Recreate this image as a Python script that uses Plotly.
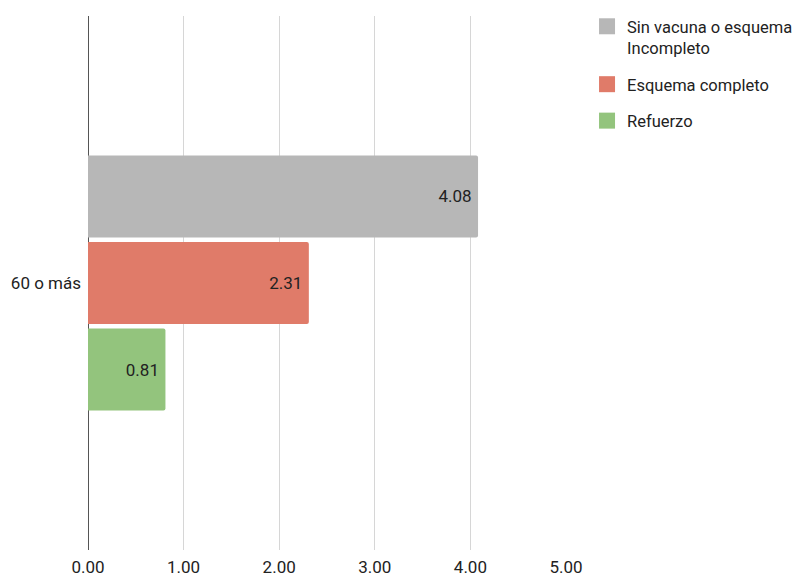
import plotly.graph_objects as go

categories = ["60 o más"]
series_names = ["Sin vacuna o esquema<br>Incompleto", "Esquema completo", "Refuerzo"]
sin_vacuna = [4.08]
esquema_completo = [2.31]
refuerzo = [0.81]
tick_vals = [0, 1, 2, 3, 4, 5]
tick_text = ["0.00", "1.00", "2.00", "3.00", "4.00", "5.00"]

colors = ["#b7b7b7", "#e07b69", "#93c47d"]
values = [sin_vacuna, esquema_completo, refuerzo]

fig = go.Figure()
# plotly draws the first trace at the bottom for horizontal bars; add in reverse
for name, vals, col in reversed(list(zip(series_names, values, colors))):
    fig.add_trace(go.Bar(
        y=categories, x=vals, name=name, orientation="h",
        marker=dict(color=col, line=dict(width=0)),
        text=[f"{v:.2f}\u2009" for v in vals], textposition="inside",
        insidetextanchor="end",
        textfont=dict(family="Roboto", size=17, color="#222222"),
        showlegend=False, hoverinfo="x",
    ))

# legend entries with larger square swatches
for i, (name, col) in enumerate(zip(series_names, colors)):
    fig.add_trace(go.Scatter(
        x=[None], y=[None], mode="markers", name=name,
        marker=dict(symbol="square", size=17, color=col),
        legendgroup=f"g{i}", legendrank=i + 1, showlegend=True,
    ))

fig.update_layout(
    width=794, height=570,
    margin=dict(l=80, r=236, t=8, b=28, autoexpand=False),
    paper_bgcolor="white", plot_bgcolor="white",
    barmode="group", bargap=0.514, bargroupgap=0.05,
    barcornerradius=2,
    font=dict(family="Roboto", size=17, color="#222222"),
    legend=dict(
        traceorder="grouped", x=1.044, y=1.013, xanchor="left", yanchor="top",
        font=dict(family="Roboto", size=16.5, color="#222222"),
        itemsizing="trace", tracegroupgap=12, valign="top",
    ),
)
fig.update_xaxes(
    range=[0, 5], tickvals=tick_vals, ticktext=tick_text,
    showgrid=True, gridcolor="#d6d6d6", gridwidth=1,
    zeroline=True, zerolinecolor="#555555", zerolinewidth=1,
    showline=False, ticks="", tickfont=dict(family="Roboto", size=17, color="#222222"),
    fixedrange=True, automargin=False, ticklabelstandoff=5,
)
fig.update_yaxes(
    showgrid=False, showline=False, ticks="", automargin=False,
    tickfont=dict(family="Roboto", size=17, color="#222222"),
    ticklabelstandoff=6,
)
fig.write_html("out.html")
